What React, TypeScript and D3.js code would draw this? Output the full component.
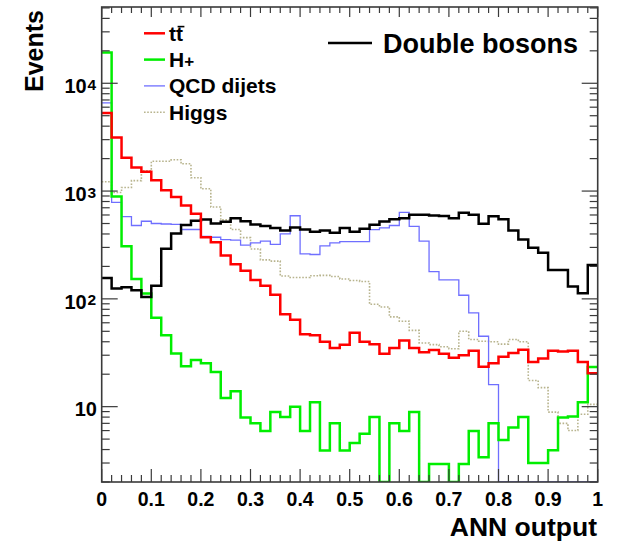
import React from "react";
import * as d3 from "d3";

// ANN output bins: 50 bins of width 0.02 on [0, 1]
const binLowEdges = d3.range(50).map((i) => i * 0.02);
const xTickValues = [0, 0.1, 0.2, 0.3, 0.4, 0.5, 0.6, 0.7, 0.8, 0.9, 1];
const xTickLabels = ["0", "0.1", "0.2", "0.3", "0.4", "0.5", "0.6", "0.7", "0.8", "0.9", "1"];
const yMajorTicks = [10, 100, 1000, 10000];
const yMajorExponents = ["", "2", "3", "4"];

const ttbar = [
  5300, 3140, 2040, 1650, 1510, 1260, 1019, 883, 736, 616,
  373, 335, 253, 210, 182, 150, 132, 109, 72, 64,
  47, 46, 40, 35, 37.5, 48.5, 40, 38, 31, 35,
  41, 35, 32, 33.5, 31, 28.5, 30, 33, 23.5, 25.3,
  29, 31.4, 33.7, 26, 28, 33, 32.5, 33, 26, 20.4,
];
const hplus = [
  19300, 890, 308, 153, 112, 66.7, 46, 31.2, 23.7, 27.1,
  25.3, 21, 12, 13.9, 7.95, 7, 5.94, 8.9, 8, 10,
  5.94, 11, 3.93, 7, 3.93, 4.6, 5.6, 8, 0, 7,
  5.94, 8.9, 0, 2.94, 2.94, 0, 2.94, 5.94, 3.4, 7,
  4.9, 6.4, 8, 3, 3, 3.95, 7.95, 8.1, 11, 23.3,
];
const qcd = [
  6580, 785, 580, 479, 525, 500, 495, 490, 440, 440,
  380, 373, 355, 350, 315, 330, 343, 320, 401, 590,
  261, 258, 310, 330, 340, 340, 340, 438, 455, 479,
  635, 470, 343, 179, 150, 150, 108, 74, 45, 16,
  0, 0, 0, 0, 0, 0, 0, 0, 0, 0,
];
const higgs = [
  1220, 970, 1080, 1250, 1540, 1890, 1890, 1950, 1790, 1330,
  1050, 711, 540, 440, 370, 290, 230, 224, 163, 158,
  158, 164, 165, 161, 153, 148, 145, 89, 84, 68,
  62, 51, 39, 37.6, 36, 34.5, 50, 42, 40.5, 40,
  38, 42, 40, 17.5, 15, 8.9, 7, 6, 8.5, 10.5,
];
const diboson = [
  156, 125, 128, 120, 104, 132, 292, 403, 485, 530,
  545, 500, 520, 560, 525, 490, 475, 455, 430, 458,
  440, 420, 430, 410, 455, 420, 446, 486, 522, 548,
  560, 602, 602, 594, 586, 560, 630, 602, 497, 585,
  548, 430, 355, 298, 268, 185, 185, 130, 113, 206,
];

const legendLeft = [
  { key: "ttbar", color: "#ff0000", width: 2.5, dash: "" },
  { key: "hplus", color: "#00ee00", width: 2.5, dash: "" },
  { key: "qcd", color: "#6f6fff", width: 1.3, dash: "" },
  { key: "higgs", color: "#b8b48e", width: 1.6, dash: "1.6 1.6" },
];

const FONT = "'Liberation Sans', Arial, Helvetica, sans-serif";

export default function App() {
  const W = 617;
  const H = 543;
  const L = 101.7, R = 597.7, T = 7, B = 482;
  const yMin = 2, yMax = 51000;
  const x = d3.scaleLinear().domain([0, 1]).range([L, R]);
  const y = d3.scaleLog().domain([yMin, yMax]).range([B, T]);

  const step = d3
    .line<[number, number]>()
    .x((d) => x(d[0]))
    .y((d) => y(Math.max(d[1], yMin)))
    .curve(d3.curveStepAfter);

  const pathFor = (vals: number[]) => {
    const pts: [number, number][] = binLowEdges.map((e, i) => [e, vals[i]]);
    pts.push([1, vals[vals.length - 1]]);
    return step(pts) || "";
  };

  const xMinor = d3.range(51).map((i) => i * 0.02);
  const yMinor: number[] = [];
  for (let p = 0; p <= 4; p++) {
    for (let k = 2; k <= 9; k++) {
      const v = k * Math.pow(10, p);
      if (v >= yMin && v <= yMax) yMinor.push(v);
    }
  }

  const axisColor = "#3a3a3a";

  return (
    <svg
      width={W}
      height={H}
      style={{ position: "absolute", left: 0, top: 0, background: "#fff" }}
      fontFamily={FONT}
    >
      <defs>
        <clipPath id="frame">
          <rect x={L} y={T} width={R - L} height={B - T} />
        </clipPath>
      </defs>
      <rect x={0} y={0} width={W} height={H} fill="#fff" />

      <g clipPath="url(#frame)" fill="none">
        <path d={pathFor(higgs)} stroke="#b8b48e" strokeWidth={1.6} strokeDasharray="1.6 1.6" />
        <path d={pathFor(qcd)} stroke="#6f6fff" strokeWidth={1.3} />
        <path d={pathFor(hplus)} stroke="#00ee00" strokeWidth={2.5} />
        <path d={pathFor(diboson)} stroke="#000" strokeWidth={2.5} />
        <path d={pathFor(ttbar)} stroke="#ff0000" strokeWidth={2.5} />
      </g>

      {/* frame */}
      <rect x={L} y={T} width={R - L} height={B - T} fill="none" stroke={axisColor} strokeWidth={1.6} />

      {/* x ticks bottom & top */}
      {xMinor.map((v, i) => {
        const major = i % 5 === 0;
        const len = major ? 13 : 7;
        const lenTop = major ? 10 : 6;
        return (
          <g key={"xt" + i} stroke={axisColor} strokeWidth={1.2}>
            <line x1={x(v)} x2={x(v)} y1={B} y2={B - len} />
            <line x1={x(v)} x2={x(v)} y1={T} y2={T + lenTop} />
          </g>
        );
      })}
      {/* y ticks left & right */}
      {yMajorTicks.map((v) => (
        <g key={"ym" + v} stroke={axisColor} strokeWidth={1.2}>
          <line x1={L} x2={L + 16} y1={y(v)} y2={y(v)} />
          <line x1={R} x2={R - 16} y1={y(v)} y2={y(v)} />
        </g>
      ))}
      {yMinor.map((v) => (
        <g key={"yn" + v} stroke={axisColor} strokeWidth={1.2}>
          <line x1={L} x2={L + 8} y1={y(v)} y2={y(v)} />
          <line x1={R} x2={R - 8} y1={y(v)} y2={y(v)} />
        </g>
      ))}

      {/* x tick labels */}
      {xTickValues.map((v, i) => (
        <text key={"xl" + i} x={x(v)} y={505.5} textAnchor="middle" fontSize={19.5} fontWeight="bold" fill="#000">
          {xTickLabels[i]}
        </text>
      ))}

      {/* y tick labels */}
      {yMajorTicks.map((v, i) =>
        yMajorExponents[i] === "" ? (
          <text key={"yl" + v} x={97} y={y(v) + 9.5} textAnchor="end" fontSize={20} fontWeight="bold" fill="#000">
            10
          </text>
        ) : (
          <g key={"yl" + v}>
            <text x={86.7} y={y(v) + 10} textAnchor="end" fontSize={20} fontWeight="bold" fill="#000">
              10
            </text>
            <text x={87.5} y={y(v) + 6.5} textAnchor="start" fontSize={15.5} fontWeight="bold" fill="#000">
              {yMajorExponents[i]}
            </text>
          </g>
        )
      )}

      {/* axis titles */}
      <text x={597} y={536} textAnchor="end" fontSize={26.5} fontWeight="bold" fill="#000">
        ANN output
      </text>
      <text
        transform="translate(43,10) rotate(-90)"
        textAnchor="end"
        fontSize={25}
        fontWeight="bold"
        fill="#000"
      >
        Events
      </text>

      {/* left legend */}
      {legendLeft.map((e, i) => {
        const ly = 33.3 + i * 26.3;
        return (
          <g key={e.key}>
            <line x1={144} x2={165} y1={ly} y2={ly} stroke={e.color} strokeWidth={e.width} strokeDasharray={e.dash || undefined} />
          </g>
        );
      })}
      <text x={169} y={33.3 + 7.3} fontSize={21} fontWeight="bold" fill="#000">
        tt
      </text>
      {/* anti-top bar over the second t */}
      <line x1={177.6} x2={184.4} y1={26.6} y2={26.6} stroke="#000" strokeWidth={1.6} />
      <text x={169} y={59.6 + 7.3} fontSize={21} fontWeight="bold" fill="#000">
        H<tspan fontSize={17}>+</tspan>
      </text>
      <text x={169} y={85.9 + 7.3} fontSize={21} fontWeight="bold" fill="#000">
        QCD dijets
      </text>
      <text x={169} y={112.2 + 7.3} fontSize={21} fontWeight="bold" fill="#000">
        Higgs
      </text>

      {/* right legend */}
      <line x1={328} x2={372} y1={43} y2={43} stroke="#000" strokeWidth={2.5} />
      <text x={383} y={52.5} fontSize={27} fontWeight="bold" fill="#000">
        Double bosons
      </text>
    </svg>
  );
}
